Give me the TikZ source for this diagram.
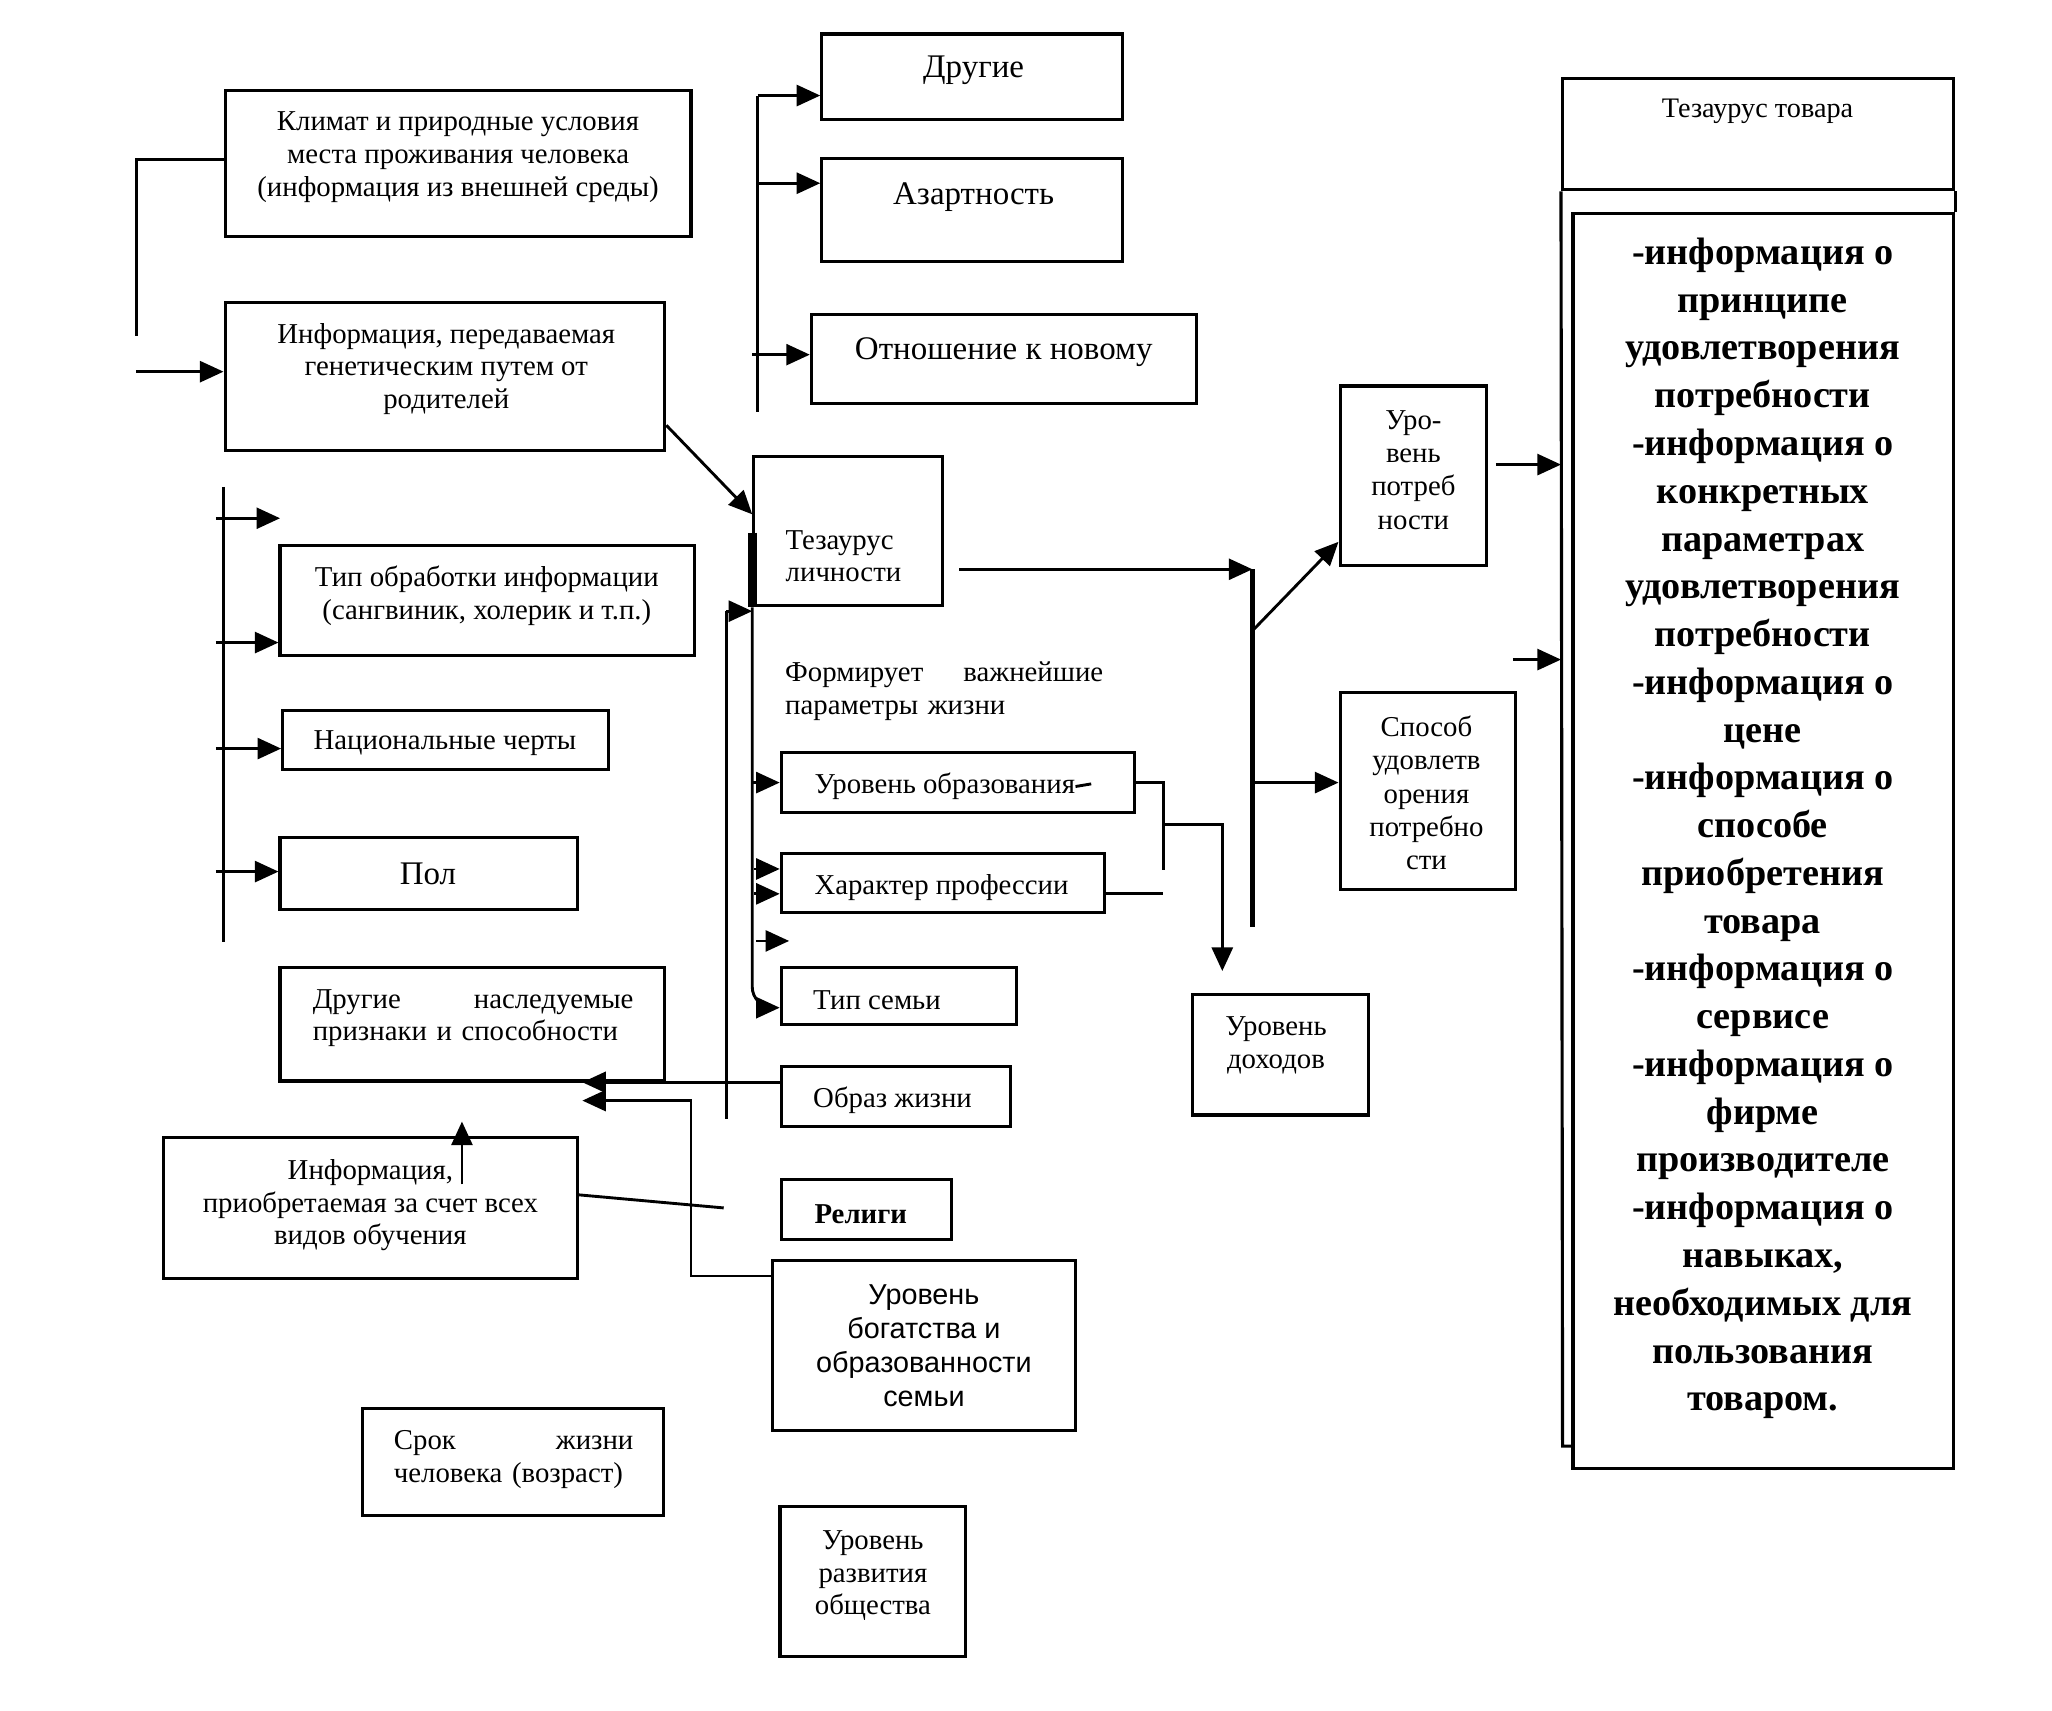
\documentclass[tikz,border=0pt]{standalone}
\usepackage{fontspec}
\setmainfont{Liberation Serif}
\newfontfamily\arialf{Liberation Sans}
\usetikzlibrary{arrows.meta,fit,calc}
\begin{document}
\begin{tikzpicture}[x=0.5pt,y=-0.5pt,
  box/.style={draw,line width=1.2pt,inner sep=0pt},
  txt/.style={inner sep=0pt,font=\fontsize{11}{12.5}\selectfont,align=center},
  bigt/.style={txt,font=\fontsize{12.6}{15}\selectfont},
  arr/.style={line width=1.1pt,-{Triangle[length=9pt,width=8pt]}},
  ln/.style={line width=1.1pt}
]
\useasboundingbox (0,0) rectangle (1568,1306.7);
% ---------- boxes ----------
\node[box,fit={(172,69)(528,181)}] (clim) {};
\node[box,fit={(172,231)(508,344)}] (gen) {};
\node[box,fit={(214,417)(531,501)}] (tob) {};
\node[box,fit={(216,543)(465,588)}] (nat) {};
\node[box,fit={(214,640)(441,695)}] (pol) {};
\node[box,fit={(214,739)(508,826)}] (dn) {};
\node[box,fit={(125,869)(441,977)}] (inf) {};
\node[box,fit={(277,1076)(507,1158)}] (srok) {};
\node[box,fit={(628,26)(858,91)}] (dr) {};
\node[box,fit={(628,121)(858,200)}] (az) {};
\node[box,fit={(620,240)(914,308)}] (otn) {};
\node[box,fit={(576,349)(720,463)}] (tez) {};
\node[box,fit={(597,575)(867,621)}] (obr) {};
\node[box,fit={(597,652)(844,697)}] (har) {};
\node[box,fit={(597,739)(777,783)}] (tsem) {};
\node[box,fit={(597,815)(772,861)}] (obz) {};
\node[box,fit={(597,901)(727,947)}] (rel) {};
\node[box,fit={(590,963)(822,1093)}] (bog) {};
\node[box,fit={(596,1151)(738,1266)}] (razv) {};
\node[box,fit={(911,760)(1046,852)}] (dox) {};
\node[box,fit={(1024,295)(1136,432)}] (pot) {};
\node[box,fit={(1024,529)(1158,680)}] (sp) {};
\node[box,fit={(1194,60)(1493,145)}] (thdr) {};
\node[box,fit={(1202,163)(1493,1122)}] (tinf) {};
% ---------- texts ----------
\node[txt] (clim-t) at (350,120) {Климат и природные условия\\места проживания человека\\(информация из внешней среды)};
\node[txt] (gen-t) at (341,282) {Информация, передаваемая\\генетическим путем от\\родителей};
\node[txt] (tob-t) at (372,455) {Тип обработки информации\\(сангвиник, холерик и т.п.)};
\node[txt] (nat-t) at (340,568) {Национальные черты};
\node[bigt] (pol-t) at (327,668) {Пол};
\node[txt,text width=122.5pt,align=left] (dn-t) at (361.5,778) {Другие\hfill наследуемые\\признаки и способности};
\node[txt] (inf-t) at (283,921) {Информация,\\приобретаемая за счет всех\\видов обучения};
\node[txt,text width=91.5pt,align=left] (srok-t) at (392.5,1115) {Срок\hfill жизни\\человека (возраст)};
\node[bigt] (dr-t) at (744,54) {Другие};
\node[bigt] (az-t) at (744,151) {Азартность};
\node[bigt] (otn-t) at (767,269) {Отношение к новому};
\node[txt,anchor=west,align=left] (tez-t) at (600,425) {Тезаурус\\личности};
\node[txt,text width=121.5pt,align=left] (form-t) at (721.5,528) {Формирует\hfill важнейшие\\параметры жизни};
\node[txt,anchor=west] (obr-t) at (622,601) {Уровень образования};
\node[txt,anchor=west] (har-t) at (622,678) {Характер профессии};
\node[txt,anchor=west] (tsem-t) at (621,764) {Тип семьи};
\node[txt,anchor=west] (obz-t) at (621,841) {Образ жизни};
\node[txt,anchor=west,font=\fontsize{11}{12.5}\selectfont\bfseries] (rel-t) at (622,928) {Религи};
\node[txt,font=\arialf\fontsize{11}{13}\selectfont] (bog-t) at (706,1028) {Уровень\\богатства и\\образованности\\семьи};
\node[txt] (razv-t) at (667,1204) {Уровень\\развития\\общества};
\node[txt,font=\fontsize{11}{12.75}\selectfont] (pot-t) at (1080,359) {Уро-\\вень\\потреб\\ности};
\node[txt,font=\fontsize{11}{12.75}\selectfont] (sp-t) at (1090,606) {Способ\\удовлетв\\орения\\потребно\\сти};
\node[txt] (dox-t) at (975,799) {Уровень\\доходов};
\node[txt,font=\fontsize{10.8}{12}\selectfont] (thdr-t) at (1343,85) {Тезаурус товара};
\node[txt,font=\fontsize{14.6}{18.25}\selectfont\bfseries] (tinf-t) at (1347,633) {-информация о\\принципе\\удовлетворения\\потребности\\-информация о\\конкретных\\параметрах\\удовлетворения\\потребности\\-информация о\\цене\\-информация о\\способе\\приобретения\\товара\\-информация о\\сервисе\\-информация о\\фирме\\производителе\\-информация о\\навыках,\\необходимых для\\пользования\\товаром.};
% ---------- right frame ----------
\coordinate (fb) at (1194,1105);
\coordinate (fc) at (1202,1105);
\draw[line width=1.2pt] (thdr.south west) -- (fb) -- (fc);
\draw[line width=1.2pt] (thdr.south east) -- (tinf.north east);
% ---------- connectors ----------
\coordinate (cA) at (104,257);
\draw[ln] (clim.west |- 0,122) -| (cA);
\coordinate (cB) at (104,284);
\draw[arr] (cB) -- (cB -| gen.west);
\draw[arr] (gen.east |- 0,325) -- (tez.west |- 0,393);
% left column
\coordinate (L1) at (171,372);
\coordinate (L2) at (171,720);
\draw[ln] (L1) -- (L2);
\coordinate (la) at (165,396);
\coordinate (lae) at (214,396);
\draw[arr] (la) -- (lae);
\coordinate (lb) at (165,491);
\draw[arr] (lb) -- (lb -| tob.west);
\coordinate (lc) at (165,572);
\draw[arr] (lc) -- (lc -| nat.west);
\coordinate (ld) at (165,666);
\draw[arr] (ld) -- (ld -| pol.west);
% top centre
\coordinate (T0) at (579,73);
\coordinate (T1) at (579,140);
\coordinate (T2) at (575,271);
\coordinate (T3) at (579,315);
\draw[ln] (T0) -- (T3);
\draw[arr] (T0) -- (T0 -| dr.west);
\draw[arr] (T1) -- (T1 -| az.west);
\draw[arr] (T2) -- (T2 -| otn.west);
% Тезаурус личности
\draw[line width=3.5pt] (tez.west |- 0,407) -- (tez.south west);
\draw[arr,rounded corners=8pt] (tez.south west) |- (tsem.west |- 0,770);
\draw[arr] (obr.west -| tez.west) -- (obr.west);
\coordinate (vb) at (576,664);
\coordinate (vc) at (576,683);
\draw[arr] (vb) -- (vb -| har.west);
\draw[arr] (vc) -- (vc -| har.west);
\coordinate (vd) at (578,719);
\coordinate (ve) at (603,719);
\draw[arr] (vd) -- (ve);
\coordinate (W0) at (555,467);
\coordinate (W1) at (555,855);
\draw[ln] (W1) -- (W0);
\draw[arr] (W0) -- (W0 -| tez.west);
% into "Другие наследуемые"
\coordinate (dnA) at (445,827);
\coordinate (dnB) at (445,841);
\coordinate (bk) at (528,841);
\draw[arr] (obz.west |- 0,827) -- (dnA);
\draw[arr] (bog.west |- 0,975) -| (bk) -- (dnB);
\coordinate (iE) at (553,923);
\draw[ln] (inf.east |- 0,913) -- (iE);
\coordinate (iU0) at (353,905);
\coordinate (iU1) at (353,857);
\draw[arr] (iU0) -- (iU1);
% to the right
\coordinate (R0) at (733,435);
\coordinate (R1) at (957,435);
\coordinate (R2) at (957,708);
\coordinate (R3) at (957,482);
\coordinate (R4) at (957,598);
\draw[arr] (R0) -- (R1);
\draw[line width=1.8pt] (R1) -- (R2);
\draw[arr] (R3) -- (pot.west |- 0,414);
\draw[arr] (R4) -- (R4 -| sp.west);
\coordinate (P0) at (1143,355);
\coordinate (P1) at (1156,504);
\draw[arr] (P0) -- (P0 -| thdr.west);
\draw[arr] (P1) -- (P1 -| thdr.west);
% education / profession -> income
\coordinate (Q1) at (889,665);
\coordinate (Q2) at (889,630);
\coordinate (Q3) at (934,742);
\coordinate (Q4) at (889,683);
\draw[ln] (obr.east) -| (Q1);
\draw[arr] (Q2) -| (Q3);
\draw[ln] (har.east |- Q4) -- (Q4);
\draw[ln] (obr-t.east) -- ++(12,-2);
\end{tikzpicture}
\end{document}
